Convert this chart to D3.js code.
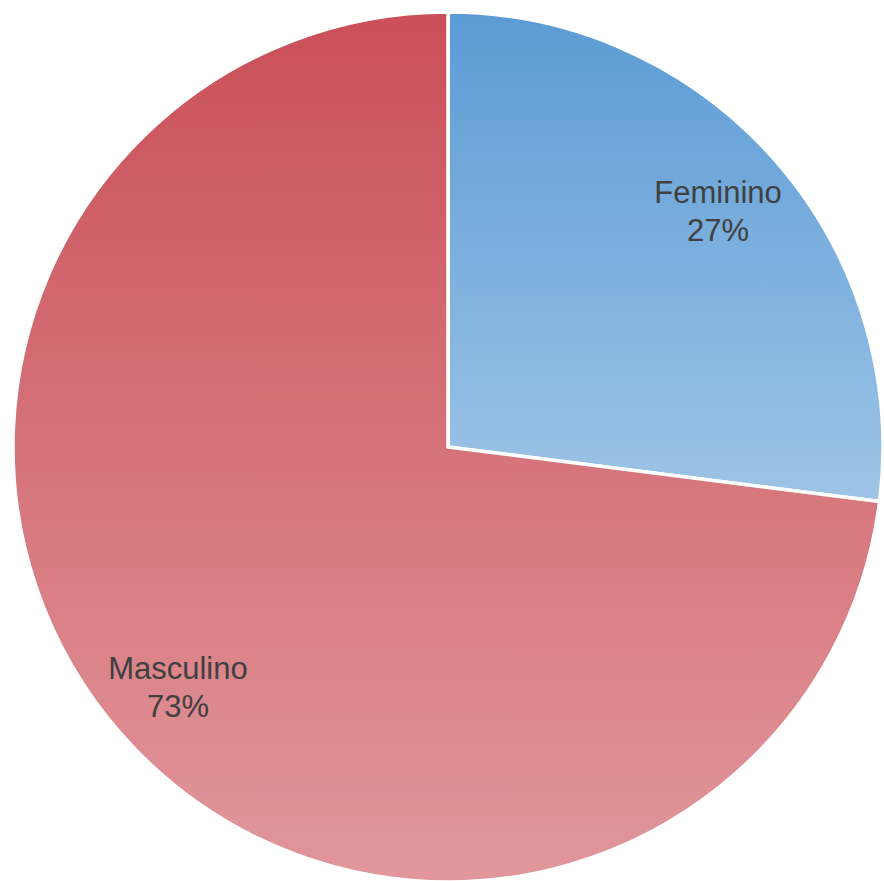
<!DOCTYPE html>
<html><head><meta charset="utf-8">
<script src="https://cdn.jsdelivr.net/npm/d3@7"></script>
<style>html,body{margin:0;padding:0;background:#fff;}svg{display:block;}</style>
</head><body>
<svg id="chart" width="884" height="881"></svg>
<script>
const categories = ["Feminino", "Masculino"];
const values = [27, 73];
const labels = ["27%", "73%"];
const colorsTop = ["#5b9bd5", "#ca4f58"];
const colorsBottom = ["#9ec4e6", "#e1979c"];

const svg = d3.select("#chart");
const cx = 448, cy = 447, R = 435;
const defs = svg.append("defs");
categories.forEach((c, i) => {
  const g = defs.append("linearGradient").attr("id", "grad" + i)
    .attr("x1", 0).attr("y1", 0).attr("x2", 0).attr("y2", 1);
  g.append("stop").attr("offset", "0%").attr("stop-color", colorsTop[i]);
  g.append("stop").attr("offset", "100%").attr("stop-color", colorsBottom[i]);
});
const data = categories.map((c, i) => ({ name: c, value: values[i], label: labels[i], i }));
const pie = d3.pie().value(d => d.value).sort(null);
const arc = d3.arc().innerRadius(0).outerRadius(R);
const labelArc = d3.arc().innerRadius(360).outerRadius(360);
const g = svg.append("g").attr("transform", `translate(${cx},${cy})`);
const arcs = pie(data);
g.selectAll("path").data(arcs).join("path")
  .attr("d", arc)
  .attr("fill", d => `url(#grad${d.data.i})`)
  .attr("stroke", "#fff").attr("stroke-width", 3.5).attr("stroke-linejoin", "miter");
const t = g.selectAll("text.lbl").data(arcs).join("text").attr("class", "lbl")
  .attr("transform", d => `translate(${labelArc.centroid(d)})`)
  .attr("text-anchor", "middle")
  .attr("font-family", "Liberation Sans, Arial, sans-serif")
  .attr("font-size", 31).attr("fill", "#404040");
t.append("tspan").attr("x", 0).attr("dy", -6).text(d => d.data.name);
t.append("tspan").attr("x", 0).attr("dy", 38).text(d => d.data.label);
</script>
</body></html>
